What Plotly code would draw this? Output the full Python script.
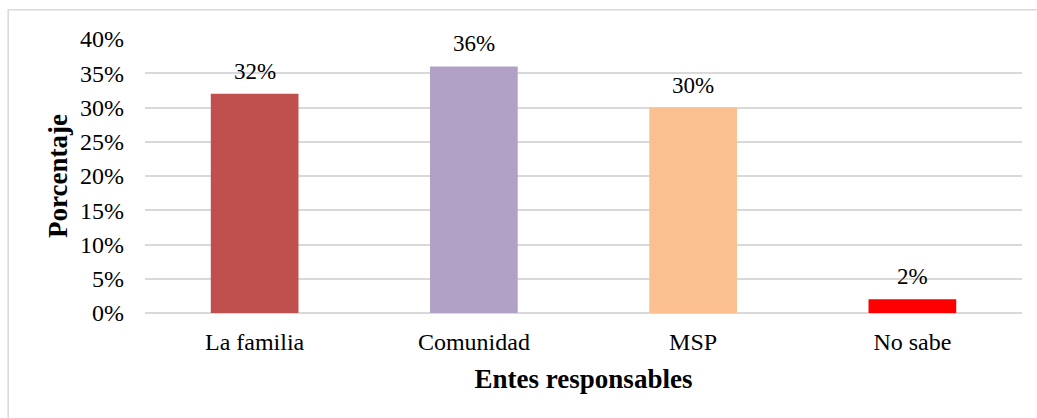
import plotly.graph_objects as go

# Survey results: who is responsible
categorias = ["La familia", "Comunidad", "MSP", "No sabe"]
porcentajes = [0.32, 0.36, 0.30, 0.02]
colores = ["#C0504D", "#B2A1C7", "#FAC090", "#FF0000"]
etiquetas = ["32%", "36%", "30%", "2%"]

serif = "Liberation Serif, Times New Roman, serif"

fig = go.Figure(
    go.Bar(
        x=categorias,
        y=porcentajes,
        marker=dict(color=colores, line=dict(width=0)),
        width=0.4,
        hoverinfo="skip",
    )
)

# value labels above each bar
for cat, val, lab in zip(categorias, porcentajes, etiquetas):
    fig.add_annotation(
        x=cat, y=val, text=lab, showarrow=False,
        yanchor="bottom", yshift=8,
        font=dict(family=serif, size=23, color="#000000"),
    )

# outer chart frame
fig.add_shape(
    type="rect", xref="paper", yref="paper",
    x0=-0.156, x1=1.03, y0=-0.40, y1=1.107,
    line=dict(color="#d9d9d9", width=1.5), fillcolor="rgba(0,0,0,0)",
    layer="below",
)

fig.update_layout(
    width=1037, height=418,
    margin=dict(l=145, r=15, t=39, b=105),
    paper_bgcolor="#ffffff", plot_bgcolor="#ffffff",
    showlegend=False,
    font=dict(family=serif, size=24, color="#000000"),
    xaxis=dict(
        title=dict(text="<b>Entes responsables</b>", font=dict(family=serif, size=27), standoff=15),
        showgrid=False, showline=False, zeroline=False,
        tickfont=dict(family=serif, size=24),
        ticklabelstandoff=12,
    ),
    yaxis=dict(
        title=dict(text="<b>Porcentaje</b>", font=dict(family=serif, size=27), standoff=4),
        range=[0, 0.40],
        tickvals=[0, 0.05, 0.10, 0.15, 0.20, 0.25, 0.30, 0.35, 0.40],
        tickformat=".0%",
        showgrid=True, gridcolor="#d9d9d9", gridwidth=1.5,
        zeroline=True, zerolinecolor="#d9d9d9", zerolinewidth=1.5,
        showline=False,
        tickfont=dict(family=serif, size=24),
        ticklabelstandoff=20,
    ),
)

fig.write_html("out.html")
